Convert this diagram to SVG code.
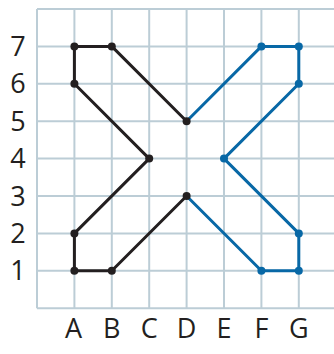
<svg xmlns="http://www.w3.org/2000/svg" width="334" height="354" viewBox="0 0 334 354">
<style>
.grid line{stroke:#bccdd6;stroke-width:2}
.lbl{font-family:"Open Sans","Noto Sans",sans-serif;font-size:27px;fill:#231f20;text-anchor:middle}
.blk{fill:none;stroke:#231f20;stroke-width:3;stroke-linejoin:round}
.blu{fill:none;stroke:#0868a6;stroke-width:3;stroke-linejoin:round}
.dk{fill:#231f20}
.db{fill:#0868a6}
</style>
<rect width="334" height="354" fill="#fff"/>
<g class="grid" id="grid">
<line x1="37" y1="9" x2="37" y2="308.2"/>
<line x1="74.4" y1="9" x2="74.4" y2="308.2"/>
<line x1="111.8" y1="9" x2="111.8" y2="308.2"/>
<line x1="149.2" y1="9" x2="149.2" y2="308.2"/>
<line x1="186.6" y1="9" x2="186.6" y2="308.2"/>
<line x1="224" y1="9" x2="224" y2="308.2"/>
<line x1="261.4" y1="9" x2="261.4" y2="308.2"/>
<line x1="298.8" y1="9" x2="298.8" y2="308.2"/>
<line x1="37" y1="9" x2="334" y2="9"/>
<line x1="37" y1="46.4" x2="334" y2="46.4"/>
<line x1="37" y1="83.8" x2="334" y2="83.8"/>
<line x1="37" y1="121.2" x2="334" y2="121.2"/>
<line x1="37" y1="158.6" x2="334" y2="158.6"/>
<line x1="37" y1="196" x2="334" y2="196"/>
<line x1="37" y1="233.4" x2="334" y2="233.4"/>
<line x1="37" y1="270.8" x2="334" y2="270.8"/>
<line x1="37" y1="308.2" x2="334" y2="308.2"/>
</g>
<g id="labels">
<text class="lbl" x="18" y="56">7</text>
<text class="lbl" x="18" y="93.4">6</text>
<text class="lbl" x="18" y="130.8">5</text>
<text class="lbl" x="18" y="168.2">4</text>
<text class="lbl" x="18" y="205.6">3</text>
<text class="lbl" x="18" y="243">2</text>
<text class="lbl" x="18" y="280.4">1</text>
<text class="lbl" x="73.6" y="338">A</text>
<text class="lbl" x="111.8" y="338">B</text>
<text class="lbl" x="149.2" y="338">C</text>
<text class="lbl" x="186.6" y="338">D</text>
<text class="lbl" x="224" y="338">E</text>
<text class="lbl" x="261.4" y="338">F</text>
<text class="lbl" x="298.8" y="338">G</text>
</g>
<g id="connectors">
<polyline class="blu" points="186.6,121.2 261.4,46.4 298.8,46.4 298.8,83.8 224,158.6 298.8,233.4 298.8,270.8 261.4,270.8 186.6,196"/>
<polyline class="blk" points="186.6,121.2 111.8,46.4 74.4,46.4 74.4,83.8 149.2,158.6 74.4,233.4 74.4,270.8 111.8,270.8 186.6,196"/>
</g>
<g id="points">
<circle class="dk" cx="74.4" cy="46.4" r="4"/>
<circle class="dk" cx="111.8" cy="46.4" r="4"/>
<circle class="dk" cx="74.4" cy="83.8" r="4"/>
<circle class="dk" cx="149.2" cy="158.6" r="4"/>
<circle class="dk" cx="74.4" cy="233.4" r="4"/>
<circle class="dk" cx="74.4" cy="270.8" r="4"/>
<circle class="dk" cx="111.8" cy="270.8" r="4"/>
<circle class="dk" cx="186.6" cy="121.2" r="4"/>
<circle class="dk" cx="186.6" cy="196" r="4"/>
<circle class="db" cx="261.4" cy="46.4" r="4"/>
<circle class="db" cx="298.8" cy="46.4" r="4"/>
<circle class="db" cx="298.8" cy="83.8" r="4"/>
<circle class="db" cx="224" cy="158.6" r="4"/>
<circle class="db" cx="298.8" cy="233.4" r="4"/>
<circle class="db" cx="298.8" cy="270.8" r="4"/>
<circle class="db" cx="261.4" cy="270.8" r="4"/>
</g>
</svg>
